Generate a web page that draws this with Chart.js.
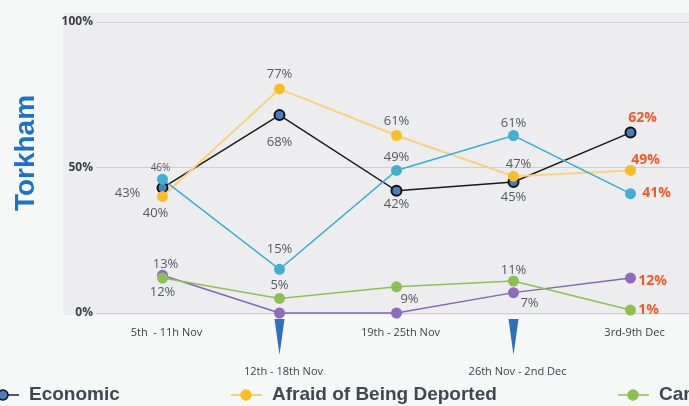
<!DOCTYPE html>
<html>
<head>
<meta charset="utf-8">
<script src="https://cdn.jsdelivr.net/npm/chart.js@4"></script>
<style>
  html, body { margin: 0; padding: 0; background: #f6f7f7; }
  #wrap { width: 689px; height: 406px; position: relative; }
</style>
</head>
<body>
<div id="wrap"><canvas id="myChart" width="689" height="406"></canvas></div>
<script>
// Weeks
const weeks = ['5th  - 11h Nov', '12th - 18th Nov', '19th - 25th Nov', '26th Nov - 2nd Dec', '3rd-9th Dec']

// Series values (%)
const economic = [43, 68, 42, 45, 62]
const deported = [40, 77, 61, 47, 49]
const seriesCyan = [46, 15, 49, 61, 41]
const cannot = [12, 5, 9, 11, 1]
const seriesPurple = [13, 0, 0, 7, 12]

// Y ticks
const yTicks = [0, 50, 100]

// weeks that get the blue marker arrow
const arrowWeeks = [1, 3]

// label offsets from each point [dx, dy], null = no label
const labelOffsets = {
    economic: [[-35, 5], [0, 27], [0, 14], [0, 15], [12, -15]],
    deported: [[-7, 17], [0, -15], [0, -14], [5, -12], [15, -10]],
    cyan: [[-2, -11], [0, -20], [0, -13], [0, -12], [26, -1]],
    cannot: [[0, 14], [0, -13], [13, 12], [0, -11], [18, 0]],
    purple: [[3, -11], null, null, [16, 11], [22, 3]]
}

const FONT = '"Open Sans", sans-serif'

const valueLabels = {
    id: 'valueLabels',
    afterDatasetsDraw(chart) {
        const ctx = chart.ctx
        ctx.save()
        chart.data.datasets.forEach((ds, di) => {
            const meta = chart.getDatasetMeta(di)
            const offs = labelOffsets[ds.key]
            meta.data.forEach((pt, i) => {
                const o = offs[i]
                if (!o) return
                const last = i == ds.data.length - 1
                ctx.font = (last ? 'bold 14px ' : '13px ') + FONT
                if (ds.key == 'cyan' && i == 0) ctx.font = '10px ' + FONT
                ctx.fillStyle = last ? '#f05a2a' : '#555a5e'
                ctx.textBaseline = 'middle'
                ctx.textAlign = 'center'
                ctx.fillText(ds.data[i] + '%', pt.x + o[0], pt.y + o[1])
            })
        })
        ctx.restore()
    }
}

const decorations = {
    id: 'decorations',
    beforeDraw(chart) {
        const ctx = chart.ctx
        const { chartArea } = chart
        ctx.save()
        ctx.fillStyle = '#f6f7f7'
        ctx.fillRect(0, 0, chart.width, chart.height)
        ctx.fillStyle = '#ededef'
        ctx.fillRect(63, 13, chart.width - 63, chartArea.bottom + 2 - 13)
        ctx.restore()
    },
    afterDraw(chart) {
        const ctx = chart.ctx
        const xs = chart.scales.x
        const ys = chart.scales.y
        ctx.save()

        // y tick labels
        ctx.font = 'bold 12px ' + FONT
        ctx.fillStyle = '#3a3f44'
        ctx.textAlign = 'right'
        ctx.textBaseline = 'middle'
        yTicks.forEach(t => ctx.fillText(t + '%', 93, ys.getPixelForValue(t)))

        // axis title
        ctx.translate(26, 153)
        ctx.rotate(-Math.PI / 2)
        ctx.font = 'bold 28px "Liberation Sans", Arial, sans-serif'
        ctx.fillStyle = '#1a73c4'
        ctx.textAlign = 'center'
        ctx.fillText('Torkham', 0, 0)
        ctx.setTransform(1, 0, 0, 1, 0, 0)

        // staggered week labels
        ctx.font = '11px ' + FONT
        ctx.fillStyle = '#3a3f44'
        ctx.textAlign = 'center'
        ctx.textBaseline = 'middle'
        weeks.forEach((w, i) => {
            const x = xs.getPixelForValue(i)
            ctx.fillText(w, x + 4, i % 2 == 0 ? 333 : 372)
        })

        // blue arrows
        ctx.fillStyle = '#2c70be'
        arrowWeeks.forEach(i => {
            const x = xs.getPixelForValue(i)
            ctx.beginPath()
            ctx.moveTo(x - 5, 319)
            ctx.lineTo(x + 5, 319)
            ctx.lineTo(x, 355)
            ctx.closePath()
            ctx.fill()
        })

        // legend
        const items = [
            { x: 3, text: 'Economic', line: '#222', fill: '#4a7cc0', border: '#111' },
            { x: 246, text: 'Afraid of Being Deported', line: '#f7c44a', fill: '#fbbd22', border: '#fbbd22' },
            { x: 633, text: 'Cannot Find Work', line: '#8cc152', fill: '#8cc152', border: '#8cc152' }
        ]
        items.forEach(it => {
            ctx.strokeStyle = it.line
            ctx.lineWidth = 1.5
            ctx.beginPath()
            ctx.moveTo(it.x - 15, 395)
            ctx.lineTo(it.x + 16, 395)
            ctx.stroke()
            ctx.beginPath()
            ctx.arc(it.x, 395, 5, 0, Math.PI * 2)
            ctx.fillStyle = it.fill
            ctx.fill()
            ctx.strokeStyle = it.border
            ctx.stroke()
            ctx.font = 'bold 19px "Liberation Sans", Arial, sans-serif'
            ctx.fillStyle = '#3d4850'
            ctx.textAlign = 'left'
            ctx.textBaseline = 'middle'
            ctx.fillText(it.text, it.x + 26, 395)
        })
        ctx.restore()
    }
}

const data = {
    labels: weeks,
    datasets: [{
        key: 'cannot',
        label: 'Cannot Find Work',
        data: cannot,
        borderColor: '#8cc152',
        backgroundColor: '#8cc152',
        borderWidth: 1.5,
        pointRadius: 5.5,
        pointBorderWidth: 0
    }, {
        key: 'purple',
        label: 'Other',
        data: seriesPurple,
        borderColor: '#8064b8',
        backgroundColor: '#8e6bbf',
        borderWidth: 1.5,
        pointRadius: 5.5,
        pointBorderWidth: 0
    }, {
        key: 'cyan',
        label: 'Other 2',
        data: seriesCyan,
        borderColor: '#3aaecf',
        backgroundColor: '#3fb0cf',
        borderWidth: 1.5,
        pointRadius: 5.5,
        pointBorderWidth: 0
    }, {
        key: 'deported',
        label: 'Afraid of Being Deported',
        data: deported,
        borderColor: '#f8d27e',
        backgroundColor: '#fbbd22',
        borderWidth: 2,
        pointRadius: 5.5,
        pointBorderWidth: 0
    }, {
        key: 'economic',
        label: 'Economic',
        data: economic,
        borderColor: '#1a1a1a',
        backgroundColor: '#4a7cc0',
        pointBorderColor: '#111',
        borderWidth: 1.5,
        pointRadius: 5,
        pointBorderWidth: 2
    }]
}

const config = {
    type: 'line',
    data: data,
    plugins: [decorations, valueLabels],
    options: {
        responsive: false,
        animation: false,
        devicePixelRatio: 1,
        layout: { autoPadding: false, padding: { left: 96, right: 0, top: 22, bottom: 85 } },
        datasets: { line: { clip: false, tension: 0 } },
        plugins: {
            legend: { display: false },
            tooltip: { enabled: false },
            title: { display: false }
        },
        scales: {
            x: {
                offset: true,
                grid: { display: false },
                border: { display: false },
                ticks: { display: false }
            },
            y: {
                min: 0,
                max: 100,
                afterBuildTicks: axis => { axis.ticks = yTicks.map(v => ({ value: v })) },
                grid: { color: '#cfd0d4', lineWidth: 1 },
                border: { display: false },
                ticks: { display: false }
            }
        }
    }
}

const ctx = document.getElementById('myChart').getContext('2d')
new Chart(ctx, config)
</script>
</body>
</html>
